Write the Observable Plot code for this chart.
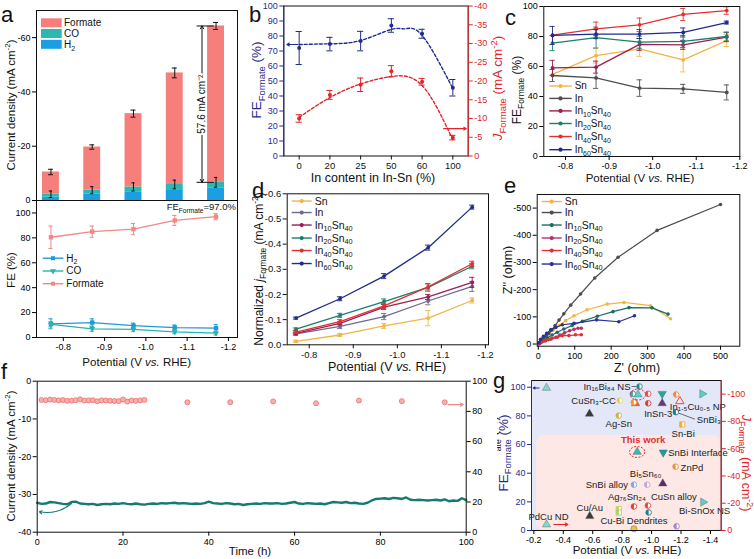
<!DOCTYPE html>
<html><head><meta charset="utf-8">
<script src="https://cdn.jsdelivr.net/npm/d3@7"></script>
<script src="https://cdn.jsdelivr.net/npm/@observablehq/plot@0.6"></script>
<style>
html,body{margin:0;padding:0;background:#fff;}
#fig{position:relative;width:754px;height:559px;overflow:hidden;background:#fff;}
.p{position:absolute;line-height:0;}
</style></head><body><div id="fig"></div>
<script>
const FONT = "'Liberation Sans', Arial, Helvetica, sans-serif";
// ================= DATA =================
// (a) partial current densities (mA cm-2) and Faradaic efficiencies (%)
const aPotential = [-0.77, -0.87, -0.97, -1.07, -1.17];
const aJ_H2 = [-1.2, -2.3, -3.0, -3.7, -4.5];
const aJ_CO = [-1.1, -1.5, -2.0, -2.2, -2.2];
const aJ_Formate = [-8.2, -15.9, -27.0, -41.1, -57.6];
const aJ_TotalErr = [1.0, 0.8, 1.3, 1.8, 1.3];
const aJ_GasErr = [1.2, 1.3, 1.5, 1.6, 1.8];
const aFE_H2 = [11, 12, 9.5, 8, 7.5];
const aFE_H2Err = [4, 3, 2, 2, 3];
const aFE_CO = [10.5, 7, 6.5, 4.5, 3.5];
const aFE_COErr = [2, 2, 1.5, 1.5, 1.5];
const aFE_Formate = [80.5, 85, 87, 94, 97];
const aFE_FormateErr = [9, 4.5, 4.5, 4, 2.5];

// (b) In content in In-Sn
const bInContent = ["0", "20", "25", "50", "60", "100"];
const bFE = [72, 74.6, 76.6, 87, 81.5, 45.5];
const bFEErr = [11, 4.5, 6.5, 4.5, 3, 5.5];
const bJ = [-10, -16.3, -19, -22.6, -19.8, -4.9];
const bJErr = [1, 1.2, 1.8, 1.5, 0.9, 0.6];
const bFitFEPos = [0, 1, 2, 3, 3.45, 4, 5];
const bFitFE = [74.3, 74.8, 77, 84.4, 84.8, 80.4, 45];
const bFitJPos = [0, 1, 2, 3, 4, 5];
const bFitJ = [-10.3, -15.6, -19.2, -21.2, -18.8, -4.3];

// (c)(d)(e) catalysts
const alloys = ["Sn", "In", "In_{10}Sn_{40}", "In_{20}Sn_{40}", "In_{40}Sn_{40}", "In_{60}Sn_{40}"];
const cFE = [
  [54.7, 67.3, 71.8, 64.4, 77.3],
  [54, 52.4, 45.6, 45.1, 42.7],
  [59.1, 59.6, 74.7, 74.4, 79.6],
  [75.6, 79.3, 76.2, 76.7, 80],
  [80.9, 85.1, 87.8, 94.7, 97.3],
  [80.7, 81.6, 81.6, 82.7, 89.3]
];
const cFEErr = [
  [0, 5, 5, 8, 4],
  [4, 7, 5.5, 3, 5],
  [5, 4, 4, 3, 3],
  [5, 7, 4, 4, 3],
  [0, 4.5, 4.5, 4, 2.5],
  [6, 3, 3, 3, 1]
];
const dJ = [
  [-0.014, -0.039, -0.075, -0.106, -0.176],
  [-0.043, -0.073, -0.112, -0.174, -0.232],
  [-0.045, -0.085, -0.15, -0.19, -0.248],
  [-0.062, -0.117, -0.172, -0.228, -0.312],
  [-0.05, -0.092, -0.155, -0.23, -0.322],
  [-0.106, -0.183, -0.273, -0.386, -0.547]
];
const dJErr = [
  [0.004, 0.006, 0.01, 0.03, 0.01],
  [0.005, 0.008, 0.012, 0.015, 0.02],
  [0.005, 0.006, 0.01, 0.01, 0.02],
  [0.005, 0.008, 0.01, 0.015, 0.01],
  [0.005, 0.008, 0.01, 0.012, 0.01],
  [0.004, 0.008, 0.01, 0.01, 0.008]
];
const eZre = [
  [2, 6, 16, 27, 41, 57, 75, 98, 134, 189, 235, 308, 363],
  [3, 8, 15, 22, 29, 37, 46, 57, 70, 89, 116, 155, 219, 326, 500],
  [5, 14, 25, 38, 52, 70, 93, 121, 162, 205, 249, 312, 356],
  [2, 8, 20, 34, 48, 59, 72, 86, 98, 109, 118],
  [2, 6, 16, 27, 38, 52, 66, 84, 102, 118],
  [2, 6, 14, 23, 34, 48, 66, 98, 160, 221, 264]
];
const eZim = [
  [-2, -10, -22, -34, -52, -68, -86, -104, -126, -147, -153, -141, -93],
  [-2.5, -10, -18, -28, -39, -52, -68, -88, -111, -143, -184, -243, -319, -418, -513],
  [-4, -12, -22, -33, -43, -55, -68, -84, -102, -119, -134, -133, -110],
  [-1, -6, -12, -18, -25, -33, -41, -49, -54, -58, -58],
  [-1, -6, -11, -16, -21, -25, -31, -31, -34, -34],
  [-5, -17, -28, -39, -52, -61, -71, -76, -89, -82, -104]
];

// (f) stability test
const fTime = [0,1,2,3,4,5,6,7,8,9,10,11,12,13,14,15,16,17,18,19,20,21,22,23,24,25,26,27,28,29,30,31,32,33,34,35,36,37,38,39,40,41,42,43,44,45,46,47,48,49,50,51,52,53,54,55,56,57,58,59,60,61,62,63,64,65,66,67,68,69,70,71,72,73,74,75,76,77,78,79,80,81,82,83,84,85,86,87,88,89,90,91,92,93,94,95,96,97,98,99,100];
const fJ = [-32.2,-32.5,-32.4,-32.0,-32.1,-32.3,-32.5,-32.6,-32.0,-31.9,
  -32.4,-32.5,-32.6,-32.5,-32.8,-32.6,-32.5,-32.6,-32.4,-32.5,
  -32.3,-32.5,-32.6,-32.4,-32.6,-32.7,-32.5,-32.4,-32.5,-32.3,
  -32.4,-32.3,-32.2,-32.4,-32.3,-32.4,-32.5,-32.4,-32.5,-32.3,
  -31.9,-32.3,-32.4,-32.5,-32.3,-32.4,-32.6,-32.5,-32.8,-32.6,
  -32.5,-32.4,-32.5,-32.3,-32.4,-32.4,-32.3,-32.5,-32.4,-32.2,
  -32.0,-32.4,-32.5,-32.3,-32.4,-32.5,-32.4,-32.6,-32.3,-32.0,
  -32.1,-32.2,-32.0,-32.3,-32.2,-32.4,-32.5,-32.2,-31.6,-31.2,
  -31.1,-31.0,-31.2,-30.9,-31.0,-31.2,-30.8,-31.4,-31.5,-31.4,
  -31.5,-31.6,-31.5,-31.4,-31.6,-31.3,-31.8,-31.6,-31.7,-31.0,
  -31.5];
const fFETime = [1,2,3,4,5,6,7,8,9,10,11,12,13,14,15,16,17,18,19,20,21,22,23,24,25,35,45,55,65,75,85,95];
const fFE = [87.6,87.4,87.8,87.6,87.3,87.5,87.0,87.1,87.4,88.0,87.2,87.3,87.4,86.7,87.3,87.2,87.0,86.9,86.8,87.9,86.5,87.2,87.0,87.3,87.6,
  86.0,86.1,86.6,85.4,87.2,86.8,86.0];

// (g) comparison with reported catalysts
// FE points (upper region, left axis)
const gFE_name = ["", "In₁₆Bi₈₄ NS", "", "This work", "", "", "", "InSn-3", "", "In₁.₅Cu₀.₅ NP", "SnBi₃", "", "CuSn₃-CC", "", "", "", "Ag-Sn", "Sn-Bi"];
const gFE_pot = [-0.286, -0.918, -0.873, -0.907, -0.977, -0.977, -1.072, -1.072, -1.167, -1.192, -1.165, -1.344, -0.784, -0.879, -0.891, -0.578, -0.777, -1.208];
const gFE_val = [99.5, 100.5, 95.4, 94.9, 95.4, 88.8, 95.4, 88.8, 94.9, 90.2, 82.6, 95.4, 90.7, 89.5, 88.8, 81.4, 80.2, 74.0];
// current density points (lower region, right axis, mA cm-2)
const gJ_name = ["This work", "SnBi Interface", "ZnPd", "SnBi alloy", "Bi₅Sn₆₀", "", "Cu/Au", "", "", "Ag₇₆Sn₂₄", "CuSn alloy", "", "Bi-SnOx NS", "PdCu ND", "Cu-Bi Dendrites", ""];
const gJ_pot = [-0.902, -1.079, -1.163, -0.88, -0.97, -1.076, -0.58, -0.777, -0.777, -0.88, -0.975, -0.98, -1.35, -0.286, -0.88, -1.17];
const gJ_val = [-57.6, -57.3, -46.8, -33.6, -33.6, -34.4, -10.5, -15.7, -13.2, -17.6, -18.3, -13.2, -20.8, -4.4, -1.3, -3.1];

// ================= STYLES =================
const gFE_sym = ["tri", "half", "half", "tri", "half", "half", "triD", "tri", "half", "triO", "half", "triR", "half", "half", "tri", "tri", "half", "sq"];
const gFE_col = ["#86d6ca", "#1b8c8f", "#36a6a0", "#62cfc8", "#e05555", "#e23b3b", "#25a8a0", "#6b3582", "#f08a3a", "#e05050", "#1d7d88", "#5ccfc4", "#e6d24a", "#f09a2a", "#e2603a", "#3a3a3a", "#c8b23c", "#f0b030"];
const gJ_sym = ["tri", "triD", "half", "half", "half", "tri", "tri", "sq", "sq", "half", "half", "half", "triR", "tri", "circ", "half"];
const gJ_col = ["#2bbfb8", "#1a9fa0", "#f58a3a", "#8aa0e6", "#c9a0d8", "#5a2a6a", "#3a3a3a", "#c8d050", "#a8cf70", "#e33b3b", "#e84545", "#1d7d88", "#5ccfc4", "#86d6ca", "#f2c040", "#a283c8"];
const seriesColC = ["#f2b544", "#4d4d4d", "#9c1f4f", "#17806d", "#e3302f", "#1f2a8c"];
const seriesColD = ["#f2b544", "#6a6a94", "#9c1f4f", "#17806d", "#e3302f", "#1f2a8c"];
const seriesColE = ["#f2b544", "#4d4d4d", "#1b6e5e", "#b3336f", "#e3302f", "#2b2f9a"];
const navy = "#1f2c8f", red = "#e2232a";
const TICK = 9;

// ================= HELPERS =================
const fig = document.getElementById("fig");
function place(node, left, top) {
  const d = document.createElement("div");
  d.className = "p"; d.style.left = left + "px"; d.style.top = top + "px";
  d.appendChild(node); fig.appendChild(d); return node;
}
const style = (color = "#000", size = TICK) => `background:transparent;overflow:visible;max-width:none;font-family:${FONT};font-size:${size}px;color:${color};`;
const hy = d => (d < 0 ? "-" : "") + Math.abs(d);
const hy1 = d => (d < 0 ? "-" : "") + Math.abs(d).toFixed(1);
const SQ3 = Math.sqrt(3);
const triUp = {draw(c, s) { const k = Math.sqrt(s / (SQ3 * 3)); c.moveTo(0, -2 * k); c.lineTo(-SQ3 * k, k); c.lineTo(SQ3 * k, k); c.closePath(); }};
const triDown = {draw(c, s) { const k = Math.sqrt(s / (SQ3 * 3)); c.moveTo(0, 2 * k); c.lineTo(-SQ3 * k, -k); c.lineTo(SQ3 * k, -k); c.closePath(); }};
const triRight = {draw(c, s) { const k = Math.sqrt(s / (SQ3 * 3)); c.moveTo(2 * k, 0); c.lineTo(-k, -SQ3 * k); c.lineTo(-k, SQ3 * k); c.closePath(); }};
const halfLeft = {draw(c, s) { const r = Math.sqrt(s / Math.PI); c.moveTo(0, -r); c.arc(0, 0, r, -Math.PI / 2, Math.PI / 2, true); c.closePath(); }};
const halfSq = {draw(c, s) { const r = Math.sqrt(s / Math.PI); c.rect(-r, -r, r, 2 * r); }};
const fullSq = {draw(c, s) { const r = Math.sqrt(s / Math.PI); c.rect(-r, -r, 2 * r, 2 * r); }};
const ellipse = {draw(c, s) {
  const ry = Math.sqrt(s / Math.PI), rx = ry * 1.4, k = 0.5523;
  c.moveTo(rx, 0);
  c.bezierCurveTo(rx, k * ry, k * rx, ry, 0, ry);
  c.bezierCurveTo(-k * rx, ry, -rx, k * ry, -rx, 0);
  c.bezierCurveTo(-rx, -k * ry, -k * rx, -ry, 0, -ry);
  c.bezierCurveTo(k * rx, -ry, rx, -k * ry, rx, 0);
  c.closePath();
}};
function errBars(rows, x, y, e, stroke, cap, sw = 0.9) {
  const R = rows.filter(d => e(d) > 0);
  return [
    Plot.ruleX(R, {x, y1: d => y(d) - e(d), y2: d => y(d) + e(d), stroke, strokeWidth: sw}),
    Plot.ruleY(R, {y: d => y(d) + e(d), x1: d => x(d) - cap, x2: d => x(d) + cap, stroke, strokeWidth: sw}),
    Plot.ruleY(R, {y: d => y(d) - e(d), x1: d => x(d) - cap, x2: d => x(d) + cap, stroke, strokeWidth: sw})
  ];
}
function dims(P) { return {width: P.w, height: P.h, marginLeft: P.mL, marginRight: P.mR, marginTop: P.mT, marginBottom: P.mB}; }
const AX = {tickSize: 4, tickPadding: 2, label: null};

// ================= PANEL a (top) =================
const aXDomain = [-0.735, -1.222];
const aColors = {H2: "#1aa0e2", CO: "#2bb8b3", Formate: "#f77f7b"};
const aStack = [];
aPotential.forEach((p, i) => {
  let y0 = 0;
  for (const [k, v] of [["H2", aJ_H2[i]], ["CO", aJ_CO[i]], ["Formate", aJ_Formate[i]]]) {
    aStack.push({p, k, y1: y0, y2: y0 + v}); y0 += v;
  }
});
const aBars = aPotential.map((p, i) => ({p, total: aJ_H2[i] + aJ_CO[i] + aJ_Formate[i], gas: aJ_H2[i] + aJ_CO[i], eT: aJ_TotalErr[i], eG: aJ_GasErr[i]}));
const BW = 0.0205;
const ann = aBars[aBars.length - 1];
const annX = ann.p + 0.034;
const annMid = (ann.total + ann.gas) / 2;
const AT = {w: 250, h: 200, mL: 36, mR: 13, mT: 10, mB: 0};
place(Plot.plot({
  ...dims(AT), style: style(),
  x: {domain: aXDomain, axis: null},
  y: {domain: [0, -70], ticks: [0, -20, -40, -60], tickFormat: hy, ...AX},
  color: {type: "identity"},
  marks: [
    Plot.rect(aStack, {x1: d => d.p + BW, x2: d => d.p - BW, y1: "y1", y2: "y2", fill: d => aColors[d.k]}),
    ...errBars(aBars, d => d.p, d => d.total, d => d.eT, "#111", 0.006, 1),
    ...errBars(aBars, d => d.p, d => d.gas, d => d.eG, "#111", 0.004, 1),
    Plot.ruleY([ann], {y: "total", x1: annX + 0.012, x2: annX - 0.03, stroke: "#111", strokeWidth: 1}),
    Plot.ruleY([ann], {y: "gas", x1: annX + 0.012, x2: annX - 0.03, stroke: "#111", strokeWidth: 1}),
    Plot.arrow([ann], {x1: annX, x2: annX, y1: annMid - 11.5, y2: "total", stroke: "#111", headLength: 5, strokeWidth: 1}),
    Plot.arrow([ann], {x1: annX, x2: annX, y1: annMid + 11.5, y2: "gas", stroke: "#111", headLength: 5, strokeWidth: 1}),
    Plot.text([ann], {x: annX, y: annMid, text: d => `${(d.gas - d.total).toFixed(1)} mA cm⁻²`, rotate: -90, fontSize: 10, fill: "#111"}),
    Plot.frame({stroke: "#111"})
  ]
}), 0, 0);

// ================= PANEL a (bottom) =================
const AB = {w: 250, h: 175, mL: 36, mR: 13, mT: 0, mB: 38};
const aFESeries = [
  {v: aFE_H2, e: aFE_H2Err, color: "#1e9ad6", sym: fullSq},
  {v: aFE_CO, e: aFE_COErr, color: "#2ab2ad", sym: triDown},
  {v: aFE_Formate, e: aFE_FormateErr, color: "#f28784", sym: fullSq}
];
const aFEMarks = [];
for (const s of aFESeries) {
  const rows = aPotential.map((p, i) => ({p, v: s.v[i], e: s.e[i]}));
  aFEMarks.push(Plot.line(rows, {x: "p", y: "v", stroke: s.color, strokeWidth: 1.3}));
  aFEMarks.push(...errBars(rows, d => d.p, d => d.v, d => d.e, s.color, 0.005, 1));
  aFEMarks.push(Plot.dot(rows, {x: "p", y: "v", r: 2.2, symbol: s.sym, fill: s.color}));
}
place(Plot.plot({
  ...dims(AB), style: style(),
  x: {domain: aXDomain, ticks: [-0.8, -0.9, -1.0, -1.1, -1.2], tickFormat: hy1, ...AX},
  y: {domain: [0, 110], ticks: [0, 20, 40, 60, 80, 100], ...AX},
  marks: [...aFEMarks, Plot.frame({stroke: "#111"})]
}), 0, 200);

// ================= PANEL b =================
const B = {w: 260, h: 190, mL: 43.3, mR: 32.3, mT: 5.5, mB: 34.5};
const bXDomain = [-0.5, 5.5];
const bIdx = bInContent.map((_, i) => i);
const bRowsFE = bIdx.map(i => ({i, v: bFE[i], e: bFEErr[i]}));
const bRowsJ = bIdx.map(i => ({i, v: bJ[i], e: bJErr[i]}));
place(Plot.plot({
  ...dims(B), style: style("#111", 9.5),
  x: {domain: bXDomain, ticks: bIdx, tickFormat: i => bInContent[i], ...AX},
  y: {domain: [0, 100], axis: null},
  marks: [Plot.frame({stroke: "#111"})]
}), 240, 0);
place(Plot.plot({
  ...dims(B), style: style(navy),
  x: {domain: bXDomain, axis: null},
  y: {domain: [0, 100], ticks: d3.range(0, 101, 10), line: true, ...AX},
  marks: [
    Plot.line(bFitFEPos.map((x, k) => ({x, y: bFitFE[k]})), {x: "x", y: "y", curve: "natural", stroke: navy, strokeWidth: 1.4, strokeDasharray: "3,2"}),
    ...errBars(bRowsFE, d => d.i, d => d.v, d => d.e, navy, 0.1, 1),
    Plot.dot(bRowsFE, {x: "i", y: "v", r: 2, fill: navy}),
    Plot.arrow([bFitFE[0]], {x1: () => bXDomain[0] + 0.45, x2: () => bXDomain[0] + 0.1, y1: d => d, y2: d => d, stroke: navy, headLength: 4, strokeWidth: 1.1})
  ]
}), 240, 0);
place(Plot.plot({
  ...dims(B), style: style(red),
  x: {domain: bXDomain, axis: null},
  y: {domain: [0, -40], axis: "right", ticks: d3.range(0, -41, -5), tickFormat: hy, line: true, ...AX},
  marks: [
    Plot.line(bFitJPos.map((x, k) => ({x, y: bFitJ[k]})), {x: "x", y: "y", curve: "natural", stroke: red, strokeWidth: 1.4, strokeDasharray: "3,2"}),
    ...errBars(bRowsJ, d => d.i, d => d.v, d => d.e, red, 0.1, 1),
    Plot.dot(bRowsJ, {x: "i", y: "v", r: 2, fill: red}),
    Plot.arrow([bFitJ[bFitJ.length - 1] - 3], {x1: () => bXDomain[1] - 0.8, x2: () => bXDomain[1] - 0.06, y1: d => d, y2: d => d, stroke: red, headLength: 4, strokeWidth: 1.1})
  ]
}), 240, 0);

// ================= PANEL c =================
const C = {w: 264, h: 190, mL: 53.3, mR: 14.7, mT: 6, mB: 34};
const cMarks = [];
alloys.forEach((s, k) => {
  const rows = aPotential.map((p, i) => ({p, v: cFE[k][i], e: cFEErr[k][i]}));
  cMarks.push(...errBars(rows, d => d.p, d => d.v, d => d.e, seriesColC[k], 0.006, 0.9));
  cMarks.push(Plot.line(rows, {x: "p", y: "v", stroke: seriesColC[k], strokeWidth: 1.3}));
  cMarks.push(Plot.dot(rows, {x: "p", y: "v", r: 1.9, fill: seriesColC[k]}));
});
place(Plot.plot({
  ...dims(C), style: style(),
  x: {domain: [-0.75, -1.2], ticks: [-0.8, -0.9, -1.0, -1.1, -1.2], tickFormat: hy1, ...AX},
  y: {domain: [0, 100], ticks: [0, 20, 40, 60, 80, 100], ...AX},
  marks: [...cMarks, Plot.frame({stroke: "#111"})]
}), 490, 0);

// ================= PANEL d =================
const D = {w: 260, h: 200, mL: 46.7, mR: 12, mT: 13.3, mB: 35.7};
const dMarks = [];
alloys.forEach((s, k) => {
  const rows = aPotential.map((p, i) => ({p, v: dJ[k][i], e: dJErr[k][i]}));
  dMarks.push(...errBars(rows, d => d.p, d => d.v, d => d.e, seriesColD[k], 0.006, 0.9));
  dMarks.push(Plot.line(rows, {x: "p", y: "v", stroke: seriesColD[k], strokeWidth: 1.3}));
  dMarks.push(Plot.dot(rows, {x: "p", y: "v", r: 1.9, fill: seriesColD[k]}));
});
place(Plot.plot({
  ...dims(D), style: style("#111", 9.5),
  x: {domain: [-0.75, -1.207], ticks: [-0.8, -0.9, -1.0, -1.1, -1.2], tickFormat: hy1, ...AX},
  y: {domain: [0, -0.6], ticks: [0, -0.1, -0.2, -0.3, -0.4, -0.5, -0.6], tickFormat: hy1, ...AX},
  marks: [...dMarks, Plot.frame({stroke: "#111"})]
}), 240, 180);

// ================= PANEL e =================
const E = {w: 264, h: 200, mL: 46.7, mR: 14.7, mT: 14, mB: 34.3};
const eMarks = [];
alloys.forEach((s, k) => {
  const rows = eZre[k].map((zr, i) => ({zr, zi: eZim[k][i]}));
  eMarks.push(Plot.line(rows, {x: "zr", y: "zi", stroke: seriesColE[k], strokeWidth: 1.2}));
  eMarks.push(Plot.dot(rows, {x: "zr", y: "zi", r: 1.8, fill: seriesColE[k]}));
});
place(Plot.plot({
  ...dims(E), style: style(),
  x: {domain: [-3, 553], ticks: [0, 100, 200, 300, 400, 500], ...AX},
  y: {domain: [8, -550], ticks: [0, -100, -200, -300, -400, -500], tickFormat: hy, ...AX},
  marks: [...eMarks, Plot.frame({stroke: "#111"})]
}), 490, 180);

// ================= PANEL f =================
const F = {w: 490, h: 189, mL: 36.7, mR: 24.3, mT: 10.7, mB: 27.3};
const fRows = fTime.map((t, i) => ({t, j: fJ[i]}));
const fFERows = fFETime.map((t, i) => ({t, fe: fFE[i]}));
const fLastFE = fFERows[fFERows.length - 1];
place(Plot.plot({
  ...dims(F), style: style(),
  x: {domain: [0, 100], ticks: [0, 20, 40, 60, 80, 100], ...AX},
  y: {domain: [-40, 0], ticks: [0, -10, -20, -30, -40], tickFormat: hy, ...AX},
  marks: [
    Plot.line(fRows, {x: "t", y: "j", stroke: "#167a72", strokeWidth: 2.4}),
    Plot.arrow([fRows[8]], {x1: "t", y1: d => d.j - 0.4, x2: () => fTime[0] + 0.5, y2: d => d.j - 2.6, bend: 25, stroke: "#167a72", headLength: 4, strokeWidth: 1.1}),
    Plot.frame({stroke: "#111"})
  ]
}), 0, 370);
place(Plot.plot({
  ...dims(F), style: style(),
  x: {domain: [0, 100], axis: null},
  y: {domain: [0, 100], axis: "right", ticks: [0, 20, 40, 60, 80, 100], ...AX},
  marks: [
    Plot.dot(fFERows, {x: "t", y: "fe", r: 2.5, fill: "#f7b0ae", stroke: "#ec6f6c", strokeWidth: 0.8}),
    Plot.arrow([fLastFE], {x1: d => d.t + 0.8, x2: d => d.t + 4.3, y1: d => d.fe - 1.5, y2: d => d.fe - 1.5, stroke: "#ee8a88", headLength: 4, strokeWidth: 1.2})
  ]
}), 0, 370);

// ================= PANEL g =================
const G = {w: 264, h: 189, mL: 41, mR: 33.3, mT: 10, mB: 29};
const gXDomain = [-0.184, -1.473];
const gYFE = [0, 104.7], gYJ = [0, -110];
const jToFE = gYFE[1] / gYJ[1];
const gSplitFE = 66.3;
const gRows = [
  ...gFE_pot.map((p, i) => ({id: "F" + i, p, y: gFE_val[i], name: gFE_name[i], sym: gFE_sym[i], col: gFE_col[i]})),
  ...gJ_pot.map((p, i) => ({id: "J" + i, p, y: gJ_val[i] * jToFE, name: gJ_name[i], sym: gJ_sym[i], col: gJ_col[i]}))
];
const gFrameW = G.w - G.mL - G.mR, gFrameH = G.h - G.mT - G.mB;
const gxpp = (gXDomain[1] - gXDomain[0]) / gFrameW;
const gypp = -(gYFE[1] - gYFE[0]) / gFrameH;
// label layout: [anchor, dx, dy, leader?]  (pixels)
const gLayout = {
  F1: ["end", -9, 0, [-3, 0, -8, 0]], F7: ["middle", -4, 11], F9: ["start", -10, 5.5],
  F10: ["start", 21, 8, [3, 1, 19, 7]], F12: ["end", -4, 0], F16: ["middle", 0, 8], F17: ["middle", 1, 9],
  J0: ["middle", 6, -12], J1: ["start", 5, 1], J2: ["start", 5, 1], J3: ["end", -6, 0], J4: ["middle", -1.5, -11],
  J6: ["middle", 0, -8], J9: ["middle", -7, -10], J10: ["start", 3, -9], J12: ["middle", 1.5, 9], J13: ["middle", 2, -8], J14: ["middle", 0, -8]
};
const gLabels = gRows.filter(d => gLayout[d.id]).map(d => {
  const [anchor, dx, dy, lead] = gLayout[d.id];
  return {...d, anchor, lx: d.p + dx * gxpp, ly: d.y + dy * gypp, lead};
});
const gLeads = gLabels.filter(d => d.lead).map(d => ({x1: d.p + d.lead[0] * gxpp, y1: d.y + d.lead[1] * gypp, x2: d.p + d.lead[2] * gxpp, y2: d.y + d.lead[3] * gypp}));
const symOf = {tri: triUp, triD: triDown, triR: triRight, sq: fullSq, circ: "circle", triO: triUp};
const gMarks = [];
const gR = 3.1;
for (const code of ["tri", "triD", "triR", "circ", "triO"]) {
  const rows = gRows.filter(d => d.sym === code);
  if (code === "triO") gMarks.push(Plot.dot(rows, {x: "p", y: "y", r: gR, symbol: symOf[code], fill: "#fbe3e3", stroke: "col", strokeWidth: 1}));
  else gMarks.push(Plot.dot(rows, {x: "p", y: "y", r: gR, symbol: symOf[code], fill: "col", stroke: "#555", strokeWidth: 0.4}));
}
const halfRows = gRows.filter(d => d.sym === "half");
gMarks.push(Plot.dot(halfRows, {x: "p", y: "y", r: gR - 0.3, fill: "white", stroke: "col", strokeWidth: 0.9}));
gMarks.push(Plot.dot(halfRows, {x: "p", y: "y", r: gR - 0.3, symbol: halfLeft, fill: "col"}));
const sqRows = gRows.filter(d => d.sym === "sq");
gMarks.push(Plot.dot(sqRows, {x: "p", y: "y", r: gR - 0.5, symbol: fullSq, fill: "white", stroke: "col", strokeWidth: 0.9}));
gMarks.push(Plot.dot(sqRows, {x: "p", y: "y", r: gR - 0.5, symbol: halfSq, fill: "col"}));
const gFirst = gRows[0];
const gPdCu = gRows.find(d => d.id === "J13");
place(Plot.plot({
  ...dims(G), style: style(),
  x: {domain: gXDomain, ticks: [-0.2, -0.4, -0.6, -0.8, -1.0, -1.2, -1.4], tickFormat: hy1, ...AX},
  y: {domain: gYFE, axis: null},
  color: {type: "identity"},
  marks: [
    Plot.rect([gYFE], {x1: () => gXDomain[0], x2: () => gXDomain[1], y1: () => gYFE[0], y2: () => gYFE[1], fill: "#e4e7f8"}),
    Plot.rect([gSplitFE], {x1: () => gXDomain[0] + 5 * gxpp, x2: () => gXDomain[1], y1: () => gYFE[0], y2: d => d, fill: "#fde8e5", rx: 8}),
    Plot.link(gLeads, {x1: "x1", y1: "y1", x2: "x2", y2: "y2", stroke: "#333", strokeWidth: 0.7}),
    ...gMarks,
    Plot.dot(gRows.filter(d => d.name === "This work"), {x: "p", y: "y", r: 5.5, symbol: ellipse, fill: "none", stroke: "#e03030", strokeWidth: 1, strokeDasharray: "2,1.5"}),
    ...["start", "middle", "end"].map(a => Plot.text(gLabels.filter(d => d.anchor === a && d.name !== "This work"), {x: "lx", y: "ly", text: "name", textAnchor: a, fontSize: 9.5, fill: "#222"})),
    Plot.text(gLabels.filter(d => d.name === "This work"), {x: "lx", y: "ly", text: "name", textAnchor: "middle", fontSize: 9.5, fontWeight: "bold", fill: "#e03030"}),
    Plot.arrow([gFirst], {x1: d => d.p + 0.05, x2: () => gXDomain[0] - 0.012, y1: "y", y2: "y", stroke: navy, headLength: 4, strokeWidth: 1.1}),
    Plot.arrow([gPdCu], {x1: d => d.p - 0.05, x2: d => d.p - 0.145, y1: "y", y2: "y", stroke: red, headLength: 4, strokeWidth: 1.1}),
    Plot.frame({stroke: "#111"})
  ]
}), 490, 370);
place(Plot.plot({
  ...dims(G), style: style(navy),
  x: {domain: gXDomain, axis: null},
  y: {domain: gYFE, ticks: [0, 20, 40, 60, 80, 100], line: true, ...AX},
  marks: []
}), 490, 370);
place(Plot.plot({
  ...dims(G), style: style(red),
  x: {domain: gXDomain, axis: null},
  y: {domain: gYJ, axis: "right", ticks: [0, -20, -40, -60, -80, -100], tickFormat: hy, line: true, ...AX},
  marks: []
}), 490, 370);

// ================= OVERLAY: titles, legends, panel letters =================
const ov = d3.create("svg").attr("width", 754).attr("height", 559)
  .attr("style", "position:absolute;left:0;top:0;overflow:visible;pointer-events:none;")
  .attr("font-family", FONT);
ov.append("defs").append("clipPath").attr("id", "clipF").append("rect").attr("x", 0).attr("y", 0).attr("width", 490).attr("height", 559);
function rich(sel, str, size) {
  const parts = str.split(/(_\{[^}]*\}|\^\{[^}]*\}|\*[^*]*\*)/g).filter(s => s !== "");
  let shift = 0;
  for (const p of parts) {
    let t = p, dy = 0, fs = size, it = false;
    if (p.startsWith("_{")) { t = p.slice(2, -1); dy = size * 0.28; fs = size * 0.7; }
    else if (p.startsWith("^{")) { t = p.slice(2, -1); dy = -size * 0.4; fs = size * 0.7; }
    else if (p.startsWith("*") && p.length > 1) { t = p.slice(1, -1); it = true; }
    const ts = sel.append("tspan").text(t).attr("font-size", fs);
    const d = dy - shift; if (d) ts.attr("dy", d.toFixed(2));
    shift = dy;
    if (it) ts.attr("font-style", "italic");
  }
}
function label(x, y, str, o = {}) {
  const size = o.size || 11;
  const t = ov.append("text")
    .attr("transform", `translate(${x},${y})` + (o.rotate ? ` rotate(${o.rotate})` : ""))
    .attr("text-anchor", o.anchor || "start").attr("font-size", size)
    .attr("fill", o.color || "#111");
  if (o.weight) t.attr("font-weight", o.weight);
  if (o.clip) t.attr("clip-path", o.clip);
  rich(t, str, size);
}
function legend(x, baselines, items, o) {
  const len = o.len, size = o.size;
  items.forEach((it, i) => {
    const yb = baselines[i], yl = yb - size * 0.33;
    ov.append("line").attr("x1", x).attr("x2", x + len).attr("y1", yl).attr("y2", yl).attr("stroke", it.color).attr("stroke-width", 1.4);
    ov.append("path").attr("d", d3.symbol(it.symbol || d3.symbolCircle, o.area || 14)()).attr("transform", `translate(${x + len / 2},${yl})`).attr("fill", it.color);
    label(x + len + 3, yb, it.label, {size});
  });
}
// panel letters
for (const [ch, x, y] of [["a", 1, 21.5], ["b", 249, 22], ["c", 505, 24.5], ["d", 252, 198], ["e", 504, 193], ["f", 1, 379], ["g", 493, 388]])
  label(x, y, ch, {size: 22});
// (a)
label(15, 105, "Current density (mA cm^{-2})", {rotate: -90, anchor: "middle", size: 11.5});
label(15, 270, "FE (%)", {rotate: -90, anchor: "middle", size: 11.5});
label(136.7, 366, "Potential (V *vs.* RHE)", {anchor: "middle", size: 11.5});
label(236, 210, `FE_{Formate}=${aFE_Formate[aFE_Formate.length - 1].toFixed(1)}%`, {anchor: "end", size: 9.5});
[["Formate", aColors.Formate, 18.3], ["CO", aColors.CO, 29], ["H_{2}", aColors.H2, 39.8]].forEach(([t, c, y]) => {
  ov.append("rect").attr("x", 41).attr("y", y).attr("width", 20.7).attr("height", 9).attr("fill", c);
  label(64, y + 8, t, {size: 10});
});
legend(42.7, [261.5, 274.3, 287], [
  {label: "H_{2}", color: aFESeries[0].color, symbol: d3.symbolSquare},
  {label: "CO", color: aFESeries[1].color, symbol: triDown},
  {label: "Formate", color: aFESeries[2].color, symbol: d3.symbolSquare}
], {len: 20.6, size: 10, area: 16});
// (b)
label(261, 80, "FE_{Formate} (%)", {rotate: -90, anchor: "middle", size: 13.5, color: navy});
label(502, 88, "*J*_{Formate} (mA cm^{-2})", {rotate: -90, anchor: "middle", size: 13.5, color: red});
label(373, 182, "In content in In-Sn (%)", {anchor: "middle", size: 12.5});
// (c)
label(521, 90, "FE_{Formate} (%)", {rotate: -90, anchor: "middle", size: 12});
label(640, 182, "Potential (V *vs.* RHE)", {anchor: "middle", size: 11.5});
legend(549.3, [89.3, 101.7, 114.2, 126.8, 139.8, 153], alloys.map((a, k) => ({label: a, color: seriesColC[k]})), {len: 22.4, size: 10});
// (d)
label(262.5, 269, "Normalized *j*_{Formate} (mA cm^{-2})", {rotate: -90, anchor: "middle", size: 12});
label(387, 371, "Potential (V *vs.* RHE)", {anchor: "middle", size: 12.5});
legend(291.7, [204.5, 216, 228.5, 241.5, 254, 267], alloys.map((a, k) => ({label: a, color: seriesColD[k]})), {len: 20, size: 10.5});
// (e)
label(511.5, 270, "Z'' (ohm)", {rotate: -90, anchor: "middle", size: 12.5});
label(637, 372, "Z' (ohm)", {anchor: "middle", size: 12.5});
legend(541.7, [205, 216, 228.5, 241.5, 254, 267.5], alloys.map((a, k) => ({label: a, color: seriesColE[k]})), {len: 20, size: 10.5});
// (f)
label(15, 456, "Current density (mA cm^{-2})", {rotate: -90, anchor: "middle", size: 11.5});
label(497, 452, "FE_{Formate} (%)", {rotate: -90, anchor: "middle", size: 12.5, clip: "url(#clipF)"});
label(250, 555, "Time (h)", {anchor: "middle", size: 11.5});
// (g)
label(507.5, 453, "FE_{Formate} (%)", {rotate: -90, anchor: "middle", size: 13.5, color: navy});
label(742, 463, "*J*_{Formate} (mA cm^{-2})", {rotate: 90, anchor: "middle", size: 12.5, color: red});
label(627, 554, "Potential (V *vs.* RHE)", {anchor: "middle", size: 11.5});
fig.appendChild(ov.node());
</script></body></html>
